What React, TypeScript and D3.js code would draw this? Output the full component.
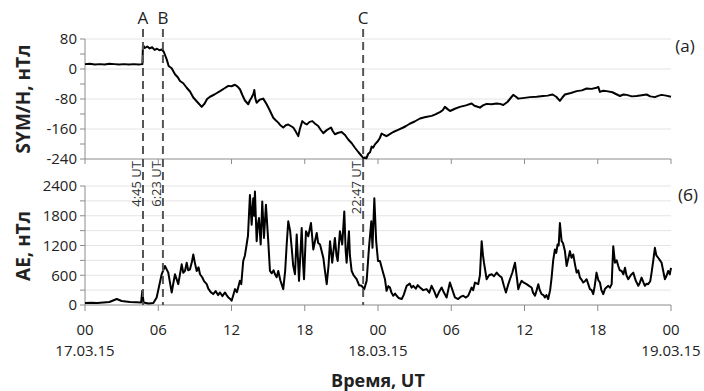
import * as d3 from 'd3';

// SYM/H, nT (hours from 00 UT 17.03.15)
const symHours = [0, 0.4, 0.8, 1.2, 1.6, 2.0, 2.4, 2.8, 3.2, 3.6, 4.0, 4.4, 4.7, 4.75, 4.9, 5.1, 5.3, 5.5, 5.7, 5.9, 6.1, 6.3, 6.45, 6.7, 6.85, 7.1, 7.37, 7.6, 7.78, 8.05, 8.33, 8.6, 8.87, 9.2, 9.56, 9.8, 10.0, 10.24, 10.6, 11.06, 11.4, 11.74, 12.0, 12.28, 12.5, 12.69, 12.9, 13.1, 13.37, 13.5, 13.65, 13.8, 13.87, 13.95, 14.06, 14.3, 14.6, 14.88, 15.1, 15.42, 15.6, 15.83, 16.0, 16.24, 16.45, 16.65, 16.85, 17.06, 17.25, 17.47, 17.6, 17.8, 18.0, 18.16, 18.4, 18.62, 18.85, 19.1, 19.3, 19.52, 19.8, 20.15, 20.3, 20.47, 20.75, 21.02, 21.3, 21.56, 21.85, 22.11, 22.4, 22.66, 22.8, 22.93, 23.05, 23.2, 23.35, 23.48, 23.6, 23.75, 24.0, 24.15, 24.3, 24.5, 24.7, 25.0, 25.25, 25.6, 26.07, 26.3, 26.6, 27.0, 27.44, 27.9, 28.4, 28.7, 29.07, 29.3, 29.48, 29.7, 29.9, 30.3, 30.7, 31.2, 31.67, 31.9, 32.1, 32.35, 32.6, 32.9, 33.3, 33.72, 34.0, 34.26, 34.6, 34.9, 35.08, 35.3, 35.49, 36.0, 36.45, 37.0, 37.53, 37.9, 38.3, 38.6, 38.9, 39.1, 39.31, 39.8, 40.27, 40.7, 41.09, 41.5, 41.9, 42.05, 42.18, 42.45, 42.73, 43.2, 43.82, 44.1, 44.37, 44.8, 45.18, 45.6, 46.0, 46.3, 46.68, 47.0, 47.23, 47.6, 48.0];
const symValues = [13, 14, 12, 13, 12, 14, 13, 12, 13, 12, 13, 12, 13, 64, 56, 60, 55, 58, 51, 54, 50, 52, 46, 25, 8, 2, -14, -22, -32, -38, -50, -60, -76, -88, -101, -92, -80, -74, -68, -59, -52, -45, -46, -42, -47, -54, -70, -84, -94, -84, -76, -66, -56, -78, -90, -82, -79, -94, -108, -130, -136, -143, -150, -156, -150, -148, -152, -156, -166, -179, -160, -139, -145, -148, -141, -139, -146, -152, -162, -171, -163, -156, -166, -174, -170, -168, -176, -188, -198, -210, -222, -232, -238, -236, -238, -226, -222, -207, -210, -201, -192, -184, -172, -176, -179, -173, -168, -163, -156, -152, -146, -140, -132, -128, -125, -121, -115, -110, -101, -107, -112, -106, -101, -97, -92, -98, -100, -103, -97, -93, -94, -92, -93, -96, -88, -76, -69, -74, -79, -77, -75, -74, -72, -71, -68, -74, -85, -76, -68, -64, -59, -57, -52, -53, -50, -48, -61, -58, -59, -62, -72, -68, -69, -73, -72, -70, -68, -73, -75, -71, -69, -71, -74];

// AE, nT
const aeHours = [
  0, 0.5, 1, 1.5, 2, 2.6, 3.0, 3.69, 4.2, 4.6,
  4.69, 4.8, 5.2, 5.6, 5.87, 6.28, 6.55, 6.82, 7.1, 7.37,
  7.64, 7.92, 8.05, 8.19, 8.33, 8.45, 8.6, 8.75, 8.87, 9.0,
  9.15, 9.3, 9.42, 9.6, 9.75, 9.97, 10.1, 10.3, 10.5, 10.7,
  10.9, 11.06, 11.25, 11.47, 11.6, 11.74, 11.9, 12.01, 12.15, 12.29,
  12.45, 12.69, 12.8, 12.96, 13.1, 13.24, 13.35, 13.51, 13.65, 13.78,
  13.85, 13.92, 14.06, 14.15, 14.25, 14.39, 14.52, 14.66, 14.82, 15.01,
  15.15, 15.3, 15.45, 15.56, 15.7, 15.83, 16.0, 16.24, 16.4, 16.52,
  16.65, 16.8, 16.93, 17.05, 17.2, 17.34, 17.45, 17.53, 17.75, 17.85,
  17.94, 18.1, 18.29, 18.51, 18.7, 18.85, 18.98, 19.1, 19.25, 19.52,
  19.65, 19.8, 19.95, 20.07, 20.25, 20.47, 20.6, 20.7, 20.88, 21.07,
  21.24, 21.35, 21.43, 21.62, 21.7, 21.84, 22.0, 22.25, 22.45, 22.66,
  22.87, 23.07, 23.26, 23.45, 23.55, 23.7, 23.85, 24.0, 24.16, 24.38,
  24.57, 24.7, 24.85, 24.98, 25.1, 25.25, 25.4, 25.53, 25.7, 25.94,
  26.1, 26.35, 26.6, 26.75, 26.89, 27.1, 27.25, 27.44, 27.7, 27.98,
  28.2, 28.39, 28.6, 28.8, 29.0, 29.21, 29.4, 29.62, 29.75, 29.89,
  30.1, 30.3, 30.57, 30.8, 30.98, 31.2, 31.39, 31.55, 31.67, 31.8,
  31.94, 32.21, 32.35, 32.49, 32.6, 32.68, 32.9, 33.1, 33.31, 33.5,
  33.72, 33.9, 34.13, 34.3, 34.48, 34.65, 34.81, 35.0, 35.22, 35.35,
  35.49, 35.6, 35.76, 35.95, 36.17, 36.4, 36.58, 36.7, 36.86, 37.0,
  37.13, 37.25, 37.4, 37.55, 37.67, 37.8, 37.94, 38.1, 38.22, 38.35,
  38.49, 38.6, 38.71, 38.8, 38.9, 39.04, 39.15, 39.31, 39.45, 39.6,
  39.72, 39.85, 39.99, 40.15, 40.27, 40.4, 40.54, 40.7, 40.81, 40.95,
  41.09, 41.25, 41.36, 41.5, 41.63, 41.75, 41.9, 42.05, 42.18, 42.3,
  42.45, 42.6, 42.86, 43.0, 43.14, 43.27, 43.41, 43.55, 43.68, 43.8,
  43.96, 44.1, 44.23, 44.35, 44.5, 44.7, 44.91, 45.1, 45.32, 45.45,
  45.59, 45.75, 45.86, 46.0, 46.13, 46.3, 46.41, 46.55, 46.68, 46.8,
  46.95, 47.1, 47.23, 47.35, 47.5, 47.65, 47.77, 47.9, 48.0,
];
const aeValues = [
  40, 45, 40, 50, 60, 120, 80, 60, 55, 50,
  287, 50, 30, 40, 153, 620, 787, 653, 253, 620,
  420, 820, 650, 687, 853, 700, 720, 860, 1020, 850,
  687, 760, 620, 560, 480, 420, 330, 260, 220, 280,
  200, 253, 180, 253, 200, 153, 120, 87, 200, 320,
  260, 487, 420, 887, 1000, 1220, 1400, 2220, 1620, 2153,
  1800, 2287, 1287, 1600, 1753, 1220, 2087, 1353, 2020, 1287,
  687, 640, 700, 620, 560, 687, 500, 320, 700, 1220,
  1687, 1500, 1153, 800, 620, 1420, 900, 487, 1553, 900,
  520, 1487, 1387, 1653, 1120, 1300, 1453, 1250, 1220, 953,
  700, 420, 800, 1287, 853, 1353, 1000, 887, 1487, 1220,
  1887, 1100, 853, 1487, 1000, 687, 600, 520, 400, 387,
  320, 487, 1153, 1687, 1153, 2153, 1287, 887, 887, 687,
  520, 287, 380, 353, 250, 187, 230, 187, 140, 120,
  200, 387, 430, 350, 387, 330, 400, 353, 300, 320,
  250, 387, 280, 153, 260, 353, 250, 153, 300, 453,
  300, 153, 120, 170, 187, 150, 187, 280, 353, 300,
  453, 420, 600, 1287, 1000, 853, 520, 600, 620, 580,
  653, 600, 553, 400, 253, 400, 520, 650, 853, 600,
  320, 400, 487, 450, 420, 380, 353, 250, 187, 300,
  420, 300, 220, 200, 153, 200, 120, 300, 553, 900,
  1120, 1050, 1220, 1200, 1653, 1287, 1250, 1087, 787, 950,
  1087, 950, 1020, 800, 653, 700, 553, 500, 453, 480,
  520, 400, 320, 300, 220, 380, 653, 500, 453, 300,
  220, 330, 387, 350, 420, 1187, 853, 900, 787, 700,
  687, 620, 753, 600, 520, 600, 653, 500, 387, 450,
  553, 450, 387, 430, 420, 480, 653, 900, 1153, 1000,
  953, 900, 853, 700, 520, 600, 687, 620, 750,
];

const xTickHours = [0, 6, 12, 18, 24, 30, 36, 42, 48];
const xTickLabels = ['00', '06', '12', '18', '00', '06', '12', '18', '00'];
const dateLabels = ['17.03.15', '', '', '', '18.03.15', '', '', '', '19.03.15'];

const symTicks = [80, 0, -80, -160, -240];
const aeTicks = [0, 600, 1200, 1800, 2400];

const markerHours = [4.75, 6.383, 22.783];
const markerNames = ['A', 'B', 'C'];
const markerTimes = ['4:45 UT', '6:23 UT', '22:47 UT'];

const FONT = '"Open Sans", sans-serif';
const AXIS = '#8c8c8c';
const GRID = '#e4e4e4';

export default function App() {
  const x = d3.scaleLinear().domain([0, 48]).range([85, 671]);
  const yTop = d3.scaleLinear().domain([-240, 80]).range([159, 39]);
  const yBot = d3.scaleLinear().domain([0, 2400]).range([305, 186]);

  const symLine = d3.line<number>().x((_, i) => x(symHours[i])).y(v => yTop(v));
  const aeLine = d3.line<number>().x((_, i) => x(aeHours[i])).y(v => yBot(v));

  const topMinor = d3.range(-240, 81, 40);
  const botMinor = d3.range(0, 2401, 300);

  return (
    <svg width={704} height={391} style={{ position: 'absolute', left: 0, top: 0, background: '#fff' }} fontFamily={FONT}>
      {/* grid lines */}
      {symTicks.filter(t => t > -240).map(t => (
        <line key={'gt' + t} x1={85} x2={671} y1={yTop(t)} y2={yTop(t)} stroke={GRID} strokeWidth={1} />
      ))}
      {botMinor.filter(t => t > 0).map(t => (
        <line key={'gb' + t} x1={85} x2={671} y1={yBot(t)} y2={yBot(t)} stroke={GRID} strokeWidth={1} />
      ))}

      {/* axes */}
      <line x1={85} x2={85} y1={39} y2={159} stroke={AXIS} />
      <line x1={85} x2={671} y1={159} y2={159} stroke={AXIS} />
      <line x1={85} x2={85} y1={186} y2={305} stroke={AXIS} />
      <line x1={85} x2={671} y1={305} y2={305} stroke={AXIS} />
      {topMinor.map(t => (
        <line key={'tt' + t} x1={80} x2={85} y1={yTop(t)} y2={yTop(t)} stroke={AXIS} />
      ))}
      {botMinor.map(t => (
        <line key={'tb' + t} x1={80} x2={85} y1={yBot(t)} y2={yBot(t)} stroke={AXIS} />
      ))}
      {xTickHours.map(h => (
        <g key={'xt' + h}>
          <line x1={x(h)} x2={x(h)} y1={159} y2={164} stroke={AXIS} />
          <line x1={x(h)} x2={x(h)} y1={305} y2={311} stroke={AXIS} />
        </g>
      ))}

      {/* tick labels */}
      {symTicks.map(t => (
        <text key={'lt' + t} x={77} y={yTop(t)} dy="0.35em" textAnchor="end" fontSize={15} fill="#222">{t}</text>
      ))}
      {aeTicks.map(t => (
        <text key={'lb' + t} x={77} y={yBot(t)} dy="0.35em" textAnchor="end" fontSize={15} fill="#222">{t}</text>
      ))}
      {xTickHours.map((h, i) => (
        <g key={'xl' + h}>
          <text x={x(h)} y={335} textAnchor="middle" fontSize={15} fill="#222">{xTickLabels[i]}</text>
          {dateLabels[i] && (
            <text x={x(h)} y={356} textAnchor="middle" fontSize={15} fill="#222">{dateLabels[i]}</text>
          )}
        </g>
      ))}

      {/* axis titles */}
      <text transform="translate(30,99) rotate(-90)" textAnchor="middle" fontSize={19} fontWeight="bold" fill="#222">SYM/H, нТл</text>
      <text transform="translate(30,246) rotate(-90)" textAnchor="middle" fontSize={19} fontWeight="bold" fill="#222">AE, нТл</text>
      <text x={378} y={387} textAnchor="middle" fontSize={18} fontWeight="bold" fill="#222">Время, UT</text>

      {/* panel labels */}
      <text x={685} y={52} textAnchor="middle" fontSize={17} fill="#222">(a)</text>
      <text x={688} y={201} textAnchor="middle" fontSize={17} fill="#222">(б)</text>

      {/* series */}
      <path d={symLine(symValues) || ''} fill="none" stroke="#000" strokeWidth={2} strokeLinejoin="round" />
      <path d={aeLine(aeValues) || ''} fill="none" stroke="#000" strokeWidth={2} strokeLinejoin="round" />

      {/* event markers */}
      {markerHours.map((h, i) => (
        <g key={'m' + i}>
          <line x1={x(h)} x2={x(h)} y1={29} y2={305} stroke="#555" strokeWidth={2} strokeDasharray="8,5" />
          <text x={x(h)} y={24} textAnchor="middle" fontSize={17} fill="#222">{markerNames[i]}</text>
          <text transform={`translate(${x(h) - 2},161) rotate(-90)`} textAnchor="end" fontSize={13} fill="#333">{markerTimes[i]}</text>
        </g>
      ))}
    </svg>
  );
}
